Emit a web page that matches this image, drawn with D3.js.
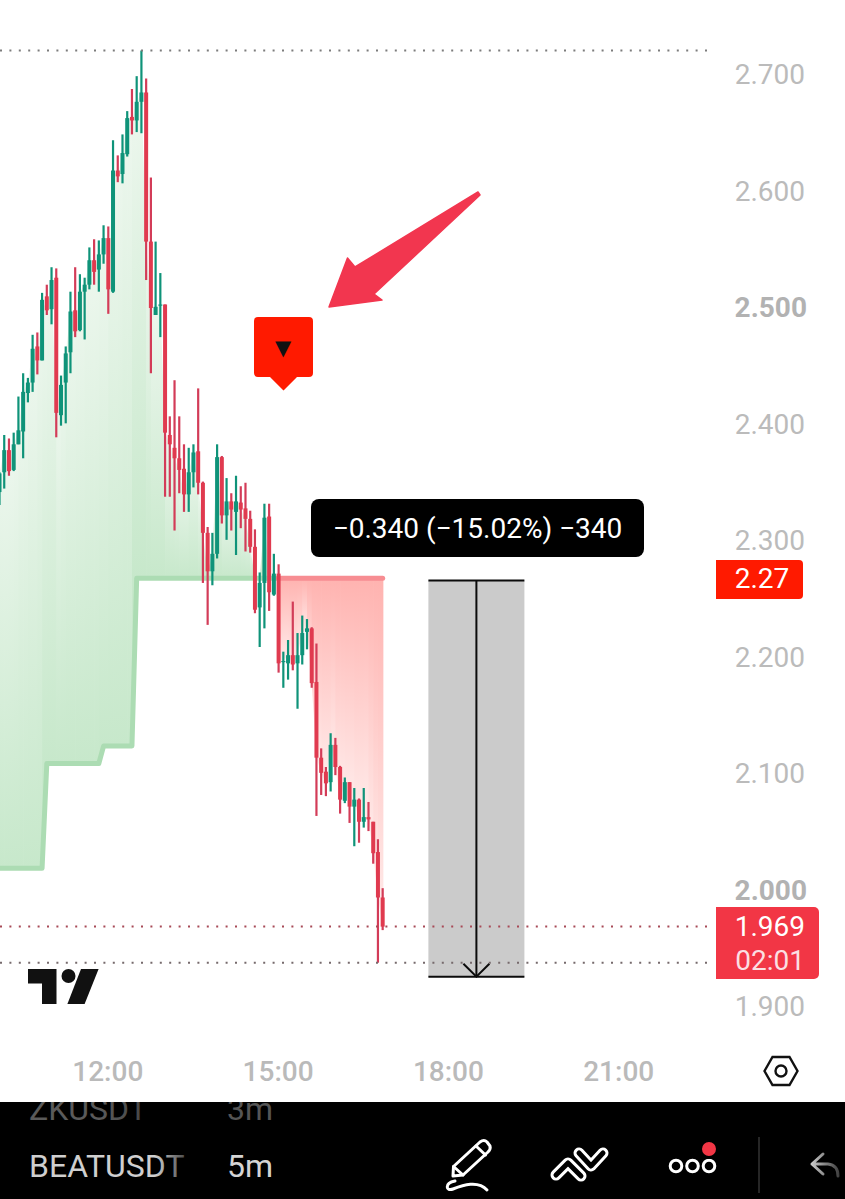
<!DOCTYPE html>
<html>
<head>
<meta charset="utf-8">
<script src="https://cdn.jsdelivr.net/npm/d3@7"></script>
<style>
  html, body { margin: 0; padding: 0; background: #fff; }
  svg { display: block; font-family: Roboto, sans-serif; }
</style>
</head>
<body>
<svg id="chart" width="845" height="1199"></svg>
<script>
// BEATUSDT 5m candles, first bar at 10:05
const opens = [
  2.342,2.359,2.378,2.361,2.383,2.394,2.427,2.436,2.467,2.455,
  2.510,2.499,2.526,2.408,2.436,2.462,2.498,2.481,2.514,2.520,
  2.541,2.533,2.546,2.560,2.514,2.618,2.615,2.632,2.664,2.661,
  2.677,2.685,2.557,2.494,2.502,2.503,2.391,2.380,2.371,2.362,
  2.340,2.359,2.377,2.350,2.307,2.274,2.289,2.372,2.322,2.334,
  2.325,2.333,2.328,2.319,2.295,2.243,2.264,2.321,2.254,2.272,
  2.196,2.195,2.202,2.195,2.202,2.222,2.225,2.179,2.114,2.102,
  2.093,2.125,2.106,2.077,2.093,2.072,2.078,2.059,2.063,2.059,
  2.033,1.994
];
const highs = [
  2.359,2.391,2.388,2.393,2.424,2.444,2.440,2.477,2.479,2.513,
  2.520,2.535,2.534,2.442,2.467,2.514,2.535,2.529,2.526,2.552,
  2.559,2.558,2.571,2.570,2.644,2.631,2.649,2.669,2.688,2.699,
  2.721,2.697,2.612,2.557,2.530,2.503,2.407,2.438,2.407,2.383,
  2.380,2.383,2.431,2.351,2.312,2.307,2.383,2.373,2.354,2.341,
  2.356,2.347,2.350,2.326,2.310,2.273,2.332,2.332,2.289,2.280,
  2.205,2.215,2.248,2.221,2.236,2.233,2.226,2.212,2.122,2.106,
  2.135,2.131,2.107,2.097,2.093,2.088,2.079,2.088,2.076,2.059,
  2.044,2.002
];
const lows = [
  2.331,2.345,2.356,2.360,2.383,2.371,2.419,2.428,2.443,2.455,
  2.494,2.486,2.389,2.399,2.401,2.444,2.475,2.480,2.473,2.516,
  2.520,2.514,2.538,2.495,2.513,2.608,2.607,2.630,2.649,2.651,
  2.650,2.524,2.444,2.494,2.475,2.338,2.338,2.309,2.341,2.325,
  2.325,2.346,2.340,2.264,2.228,2.262,2.285,2.315,2.301,2.309,
  2.288,2.311,2.291,2.290,2.238,2.209,2.225,2.240,2.253,2.187,
  2.174,2.181,2.189,2.156,2.194,2.207,2.174,2.064,2.082,2.081,
  2.085,2.099,2.066,2.075,2.058,2.038,2.041,2.054,2.051,2.023,
  1.938,1.966
];
const closes = [
  2.358,2.378,2.360,2.383,2.395,2.428,2.436,2.465,2.455,2.507,
  2.498,2.524,2.410,2.434,2.461,2.497,2.480,2.514,2.520,2.541,
  2.531,2.546,2.560,2.516,2.618,2.613,2.633,2.663,2.661,2.677,
  2.685,2.557,2.500,2.501,2.503,2.393,2.383,2.371,2.361,2.340,
  2.359,2.376,2.350,2.307,2.274,2.289,2.372,2.322,2.334,2.327,
  2.334,2.327,2.319,2.295,2.241,2.264,2.320,2.256,2.272,2.195,
  2.197,2.202,2.194,2.202,2.221,2.225,2.178,2.114,2.101,2.092,
  2.125,2.106,2.078,2.093,2.072,2.078,2.059,2.063,2.061,2.032,
  1.994,1.969
];

// Trailing stop: each level applies from the given bar index onward
const stopLevels = [2.019, 2.109, 2.124, 2.268];
const stopStarts = [0, 10, 22, 29];
const flipIndex = 59; // the trend turns down on this bar

const priceTicks = [2.7, 2.6, 2.5, 2.4, 2.3, 2.2, 2.1, 2.0, 1.9];
const strongTicks = [2.5, 2.0];
const timeTicks = ["12:00", "15:00", "18:00", "21:00"];
const lastPrice = 1.969;
const countdown = "02:01";
const sessionHigh = 2.721;
const sessionLow = 1.938;
const measureFrom = 2.266;
const measureTo = 1.926;
const measurePercent = -15.02;
const measureTicks = -340;
const watchSymbols = ["ZKUSDT", "BEATUSDT"];
const watchFrames = ["3m", "5m"];

const W = 845, H = 1199;
const GREEN = "#0f9379", RED = "#e03a4f", RED_WICK = "#d33c58";
const svg = d3.select("#chart");
const defs = svg.append("defs");

const minutes = h => Date.UTC(2024, 0, 1, h);
const barTime = i => new Date(minutes(10) + (i + 1) * 5 * 60000);
const parseClock = d3.utcParse("%H:%M");
const clockDate = s => { const t = parseClock(s); return new Date(Date.UTC(2024, 0, 1, t.getUTCHours(), t.getUTCMinutes())); };

const x = d3.scaleUtc().domain([clockDate("12:00"), clockDate("21:00")]).range([108.3, 619.2]);
const y = d3.scaleLinear().domain([1.9, 2.7]).range([1007, 75]);

const bars = closes.map((c, i) => ({
  i, open: opens[i], high: highs[i], low: lows[i], close: c,
  t: barTime(i), up: c >= opens[i],
  level: stopLevels[d3.bisectRight(stopStarts, i) - 1]
}));
const bx = d => x(d.t);

// Shaded bands between the stop and the closes, one column per bar interval
function bandColumn(a, b, key, top, bottom, colorEdge, colorPale, paleFromClose) {
  const id = `${key}-${a.i}`;
  const yClose = paleFromClose(a, b);
  const yLevel = y(b.level);
  const g = defs.append("linearGradient").attr("id", id)
    .attr("gradientUnits", "userSpaceOnUse")
    .attr("x1", 0).attr("x2", 0).attr("y1", yClose).attr("y2", yLevel);
  g.append("stop").attr("offset", 0).attr("stop-color", colorPale);
  g.append("stop").attr("offset", 1).attr("stop-color", colorEdge);
  const x0 = bx(a), x1 = bx(b);
  return `M${x0},${top(a)}L${x1},${top(b)}L${x1 + 0.7},${top(b)}L${x1 + 0.7},${bottom(b)}L${x1},${bottom(b)}L${x0},${bottom(a)}Z`;
}

const bandLayer = svg.append("g").attr("class", "bands");
const greenBars = bars.slice(0, flipIndex + 1);
d3.pairs(greenBars).forEach(([a, b]) => {
  const top = d => Math.min(y(d.close), y(d.level));
  const d = bandColumn(a, b, "up", top, d => y(d.level), "#c7e8cb", "#edf7ee",
    (p, q) => Math.min(y(p.close), y(q.close)));
  bandLayer.append("path").attr("d", d).attr("fill", `url(#up-${a.i})`);
});
const redBars = bars.slice(flipIndex);
redBars.forEach(d => d.level = stopLevels[stopLevels.length - 1]);
d3.pairs(redBars).forEach(([a, b]) => {
  const bottom = d => Math.max(y(d.close), y(d.level));
  const d = bandColumn(a, b, "down", d => y(d.level), bottom, "#ffb3b0", "#ffeceb",
    (p, q) => Math.max(y(p.close), y(q.close)));
  bandLayer.append("path").attr("d", d).attr("fill", `url(#down-${a.i})`);
});

// Stop line
const stopLine = d3.line().x(bx).y(d => y(d.level));
svg.append("path").attr("d", stopLine(greenBars)).attr("fill", "none")
  .attr("stroke", "#acdcb3").attr("stroke-width", 5).attr("stroke-linejoin", "round");
svg.append("path").attr("d", stopLine(redBars)).attr("fill", "none")
  .attr("stroke", "#f78d92").attr("stroke-width", 5).attr("stroke-linecap", "round");

// Candles
const candles = svg.append("g").attr("class", "candles");
candles.selectAll("line").data(bars).join("line")
  .attr("x1", bx).attr("x2", bx)
  .attr("y1", d => y(d.high)).attr("y2", d => y(d.low))
  .attr("stroke", d => d.up ? GREEN : RED_WICK).attr("stroke-width", 2.2);
candles.selectAll("rect").data(bars).join("rect")
  .attr("x", d => bx(d) - 2).attr("width", 4)
  .attr("y", d => y(Math.max(d.open, d.close)))
  .attr("height", d => Math.max(1, Math.abs(y(d.open) - y(d.close))))
  .attr("fill", d => d.up ? GREEN : RED);

// Price range tool
const measureLeft = x(clockDate("18:00")) - 20.5, measureWidth = 96;
const measure = svg.append("g").attr("class", "measure");
measure.append("rect").attr("x", measureLeft).attr("y", y(measureFrom))
  .attr("width", measureWidth).attr("height", y(measureTo) - y(measureFrom)).attr("fill", "#cbcbcb");

// Dotted session and last-price lines
const dotted = [
  { price: sessionHigh, color: "#7c7c7c" },
  { price: lastPrice, color: "#a84a57" },
  { price: sessionLow, color: "#766a6c" }
];
svg.append("g").selectAll("line").data(dotted).join("line")
  .attr("x1", 0).attr("x2", 708)
  .attr("y1", d => y(d.price)).attr("y2", d => y(d.price))
  .attr("stroke", d => d.color).attr("stroke-width", 2)
  .attr("stroke-dasharray", "2 7.4");

const midX = measureLeft + measureWidth / 2;
measure.append("g").selectAll("line")
  .data([measureFrom, measureTo]).join("line")
  .attr("x1", measureLeft).attr("x2", measureLeft + measureWidth)
  .attr("y1", d => y(d)).attr("y2", d => y(d))
  .attr("stroke", "#0b0b0b").attr("stroke-width", 2);
measure.append("line").attr("x1", midX).attr("x2", midX)
  .attr("y1", y(measureFrom)).attr("y2", y(measureTo))
  .attr("stroke", "#0b0b0b").attr("stroke-width", 2);
measure.append("path")
  .attr("d", `M${midX - 13},${y(measureTo) - 13}L${midX},${y(measureTo)}L${midX + 13},${y(measureTo) - 13}`)
  .attr("fill", "none").attr("stroke", "#0b0b0b").attr("stroke-width", 2);

// Range readout
const minus = v => d3.format(".3f")(Math.abs(v));
svg.append("rect").attr("x", 311).attr("y", 499).attr("width", 333).attr("height", 58)
  .attr("rx", 8).attr("fill", "#000");
svg.append("text").attr("x", 477.5).attr("y", 528).attr("dy", "0.34em")
  .attr("text-anchor", "middle").attr("fill", "#fff").attr("font-size", 28)
  .text(`\u2212${minus(measureFrom - measureTo)} (\u2212${Math.abs(measurePercent).toFixed(2)}%) \u2212${Math.abs(measureTicks)}`);

// Price axis
const priceAxis = d3.axisRight(y).tickValues(priceTicks).tickSize(0).tickFormat(d3.format(".3f"));
const pa = svg.append("g").attr("transform", "translate(805,0)").call(priceAxis);
pa.select(".domain").remove();
pa.selectAll("text")
  .attr("x", d => strongTicks.includes(d) ? 2 : 0).attr("text-anchor", "end").attr("dy", "0.32em")
  .attr("font-family", "Roboto, sans-serif").attr("font-size", 28)
  .attr("fill", d => strongTicks.includes(d) ? "#b2b2b2" : "#bbbbbb")
  .attr("font-weight", d => strongTicks.includes(d) ? 700 : 400);

// Time axis
const timeAxis = d3.axisBottom(x).tickValues(timeTicks.map(clockDate)).tickSize(0).tickFormat(d3.utcFormat("%H:%M"));
const ta = svg.append("g").attr("transform", "translate(-1,1071)").call(timeAxis);
ta.select(".domain").remove();
ta.selectAll("text")
  .attr("y", 0).attr("dy", "0.34em")
  .attr("font-family", "Roboto, sans-serif").attr("font-size", 28)
  .attr("font-weight", 500).attr("fill", "#bababa");

// Stop level and last price badges
const stopValue = stopLevels[stopLevels.length - 1];
svg.append("path").attr("d", "M716,560H799a4,4 0 0 1 4,4V595a4,4 0 0 1 -4,4H716Z").attr("fill", "#ff1a00");
svg.append("text").attr("x", 762).attr("y", y(stopValue)).attr("dy", "0.34em")
  .attr("text-anchor", "middle").attr("fill", "#fff").attr("font-size", 28)
  .text(d3.format(".2f")(stopValue));
svg.append("path").attr("d", "M716,907H814a5,5 0 0 1 5,5V974a5,5 0 0 1 -5,5H716Z").attr("fill", "#f23645");
svg.append("text").attr("x", 805).attr("y", y(lastPrice)).attr("dy", "0.34em")
  .attr("text-anchor", "end").attr("fill", "#fff").attr("font-size", 28)
  .text(d3.format(".3f")(lastPrice));
svg.append("text").attr("x", 805).attr("y", 960).attr("dy", "0.34em")
  .attr("text-anchor", "end").attr("fill", "#fbdfe2").attr("font-size", 28)
  .text(countdown);

// Sell signal marker and the arrow pointing at it
svg.append("path")
  .attr("d", "M258,317H309a4,4 0 0 1 4,4V373a4,4 0 0 1 -4,4H297L283.5,390.5L270,377H258a4,4 0 0 1 -4,-4V321a4,4 0 0 1 4,-4Z")
  .attr("fill", "#ff1a00");
svg.append("text").attr("x", 283).attr("y", 347).attr("dy", "0.36em")
  .attr("text-anchor", "middle").attr("fill", "#111").attr("font-size", 21)
  .attr("font-family", "'DejaVu Sans'").text("\u25BC");
svg.append("path")
  .attr("d", "M329,307L347.5,258L355,267L478,192L480,195L374,294L382,300Z")
  .attr("fill", "#f2364f").attr("stroke", "#f2364f").attr("stroke-width", 1.5).attr("stroke-linejoin", "round");

// Brand mark
const brand = svg.append("g").attr("fill", "#111");
brand.append("path").attr("d", "M28,969H56.5V1004H42V983.5H28Z");
brand.append("circle").attr("cx", 68.5).attr("cy", 976).attr("r", 7);
brand.append("path").attr("d", "M81,969H98.6L84.6,1004H67.4Z");

// Settings hexagon
const gear = svg.append("g").attr("fill", "none").attr("stroke", "#111").attr("stroke-width", 2.4);
gear.append("path").attr("d", "M764.5,1071L772.5,1057H789.5L797.5,1071L789.5,1085H772.5Z");
gear.append("circle").attr("cx", 781).attr("cy", 1071).attr("r", 5.5);

// Bottom toolbar
svg.append("rect").attr("x", 0).attr("y", 1102).attr("width", W).attr("height", H - 1102).attr("fill", "#000");
const clip = defs.append("clipPath").attr("id", "toolbar");
clip.append("rect").attr("x", 0).attr("y", 1102).attr("width", W).attr("height", H - 1102);
const fade = defs.append("linearGradient").attr("id", "symbolFade")
  .attr("gradientUnits", "userSpaceOnUse").attr("x1", 155).attr("x2", 189).attr("y1", 0).attr("y2", 0);
fade.append("stop").attr("offset", 0).attr("stop-color", "#cfcfcf");
fade.append("stop").attr("offset", 1).attr("stop-color", "#3a3a3a");
const fadeDim = defs.append("linearGradient").attr("id", "symbolDim")
  .attr("gradientUnits", "userSpaceOnUse").attr("x1", 100).attr("x2", 150).attr("y1", 0).attr("y2", 0);
fadeDim.append("stop").attr("offset", 0).attr("stop-color", "#5a5a5a");
fadeDim.append("stop").attr("offset", 1).attr("stop-color", "#444");

const rowY = [1109, 1166];
const rows = svg.append("g").attr("clip-path", "url(#toolbar)").attr("font-size", 32).attr("font-weight", 400);
rows.selectAll("text.sym").data(watchSymbols).join("text").attr("class", "sym")
  .attr("x", 29).attr("y", (d, i) => rowY[i]).attr("dy", "0.34em")
  .attr("fill", (d, i) => i ? "url(#symbolFade)" : "url(#symbolDim)").text(d => d);
rows.selectAll("text.frame").data(watchFrames).join("text").attr("class", "frame")
  .attr("x", 227).attr("y", (d, i) => rowY[i]).attr("dy", "0.34em")
  .attr("fill", (d, i) => i ? "#d4d4d4" : "#555").text(d => d);

const icons = svg.append("g").attr("fill", "none").attr("stroke", "#fff")
  .attr("stroke-width", 3).attr("stroke-linejoin", "round").attr("stroke-linecap", "round");
// pencil
icons.append("path").attr("d", "M453.5,1166.5L480,1142Q484,1139 487,1142L490,1146Q491,1149 488,1152L463,1175L453,1176Z");
icons.append("path").attr("d", "M476,1146L485.5,1155M453.5,1166.5L463,1175");
icons.append("path").attr("d", "M455,1181C444,1183 446,1192 453,1189C463,1185 478,1180 487,1190");
// drawing tools
icons.append("path").attr("stroke-width", 11).attr("d", "M556,1175L568,1163L581,1176M579,1153L591,1166L603,1153");
icons.append("path").attr("stroke", "#000").attr("stroke-width", 5).attr("d", "M556,1175L568,1163L581,1176M579,1153L591,1166L603,1153");
// more menu
icons.append("g").selectAll("circle").data([676, 692.5, 709]).join("circle")
  .attr("cx", d => d).attr("cy", 1166).attr("r", 5.8);
svg.append("circle").attr("cx", 709).attr("cy", 1149).attr("r", 8.5).attr("fill", "#f23645").attr("stroke", "#000").attr("stroke-width", 3);
svg.append("line").attr("x1", 759).attr("x2", 759).attr("y1", 1137).attr("y2", 1193).attr("stroke", "#333").attr("stroke-width", 1.5);
// undo
const undoFade = defs.append("linearGradient").attr("id", "undoFade")
  .attr("gradientUnits", "userSpaceOnUse").attr("x1", 812).attr("x2", 840).attr("y1", 0).attr("y2", 0);
undoFade.append("stop").attr("offset", 0).attr("stop-color", "#c8c8c8");
undoFade.append("stop").attr("offset", 1).attr("stop-color", "#3a3a3a");
svg.append("path").attr("fill", "none").attr("stroke", "url(#undoFade)").attr("stroke-width", 3)
  .attr("stroke-linecap", "round").attr("stroke-linejoin", "round")
  .attr("d", "M823,1154L812,1164L823,1174M812,1164H828Q838,1165 838,1176");
</script>
</body>
</html>
